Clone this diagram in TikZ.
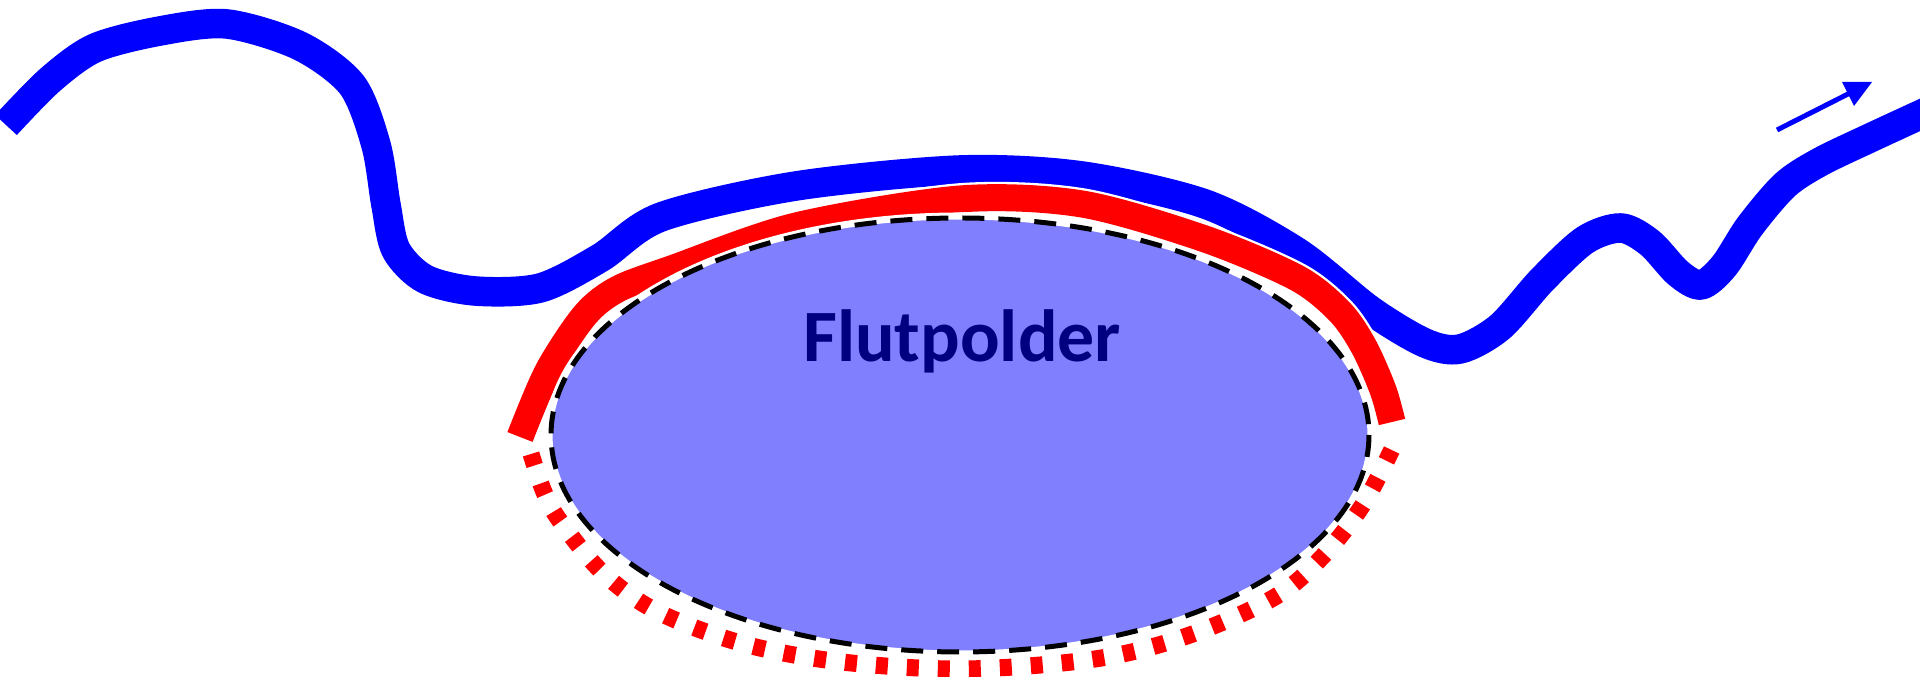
\documentclass[tikz,border=0pt]{standalone}
\usepackage{fontspec}
\setmainfont{Carlito}
\definecolor{riverblue}{HTML}{0000FF}
\definecolor{dikered}{HTML}{FF0000}
\definecolor{polderfill}{HTML}{8080FF}
\definecolor{poldertext}{HTML}{000080}
\tikzset{
  river/.style={draw=riverblue, line width=8.4pt, line join=round},
  dikecasing/.style={draw=white, line width=9pt, line join=round},
  dike/.style={draw=dikered, line width=7.68pt, line join=round},
  dikedot/.style={draw=dikered, line width=4.84pt, dash pattern=on 3.41pt off 5.41pt},
  polder/.style={fill=polderfill},
  polderring/.style={draw=white, line width=2pt},
  polderedge/.style={draw=black, line width=1.42pt, dash pattern=on 6.26pt off 3.98pt},
  flowarrow/.style={draw=riverblue, line width=1.42pt},
  label/.style={font=\bfseries\fontsize{21pt}{25pt}\selectfont, text=poldertext, inner sep=0pt}
}
\begin{document}
\begin{tikzpicture}[x=0.01cm, y=-0.01cm]
\clip (0,0) rectangle (1920,677);
\fill[white] (0,0) rectangle (1920,677);
% river
\draw[river] plot[smooth, tension=0.5] coordinates {
 (6,125) (50,80) (95,48) (160,31) (227,24) (300,46) (352,85)
 (376,145) (386,205) (396,250) (425,279) (475,291) (540,288)
 (600,258) (661,217) (796,186) (960,170) (1082,176) (1205,204)
 (1297,252) (1370,310) (1425,343) (1460,349) (1500,327) (1542,280)
 (1585,240) (1621,228) (1650,243) (1678,273) (1701,285) (1724,266)
 (1750,226) (1785,185) (1820,162) (1870,138) (1935,108)};
% flow direction arrow
\coordinate (arrowtail) at (1777,130);
\coordinate (arrowhead) at (1850,93);
\draw[flowarrow] (arrowtail) -- (arrowhead);
\fill[riverblue] (1842,82) -- (1872,82) -- (1854,106) -- cycle;
% existing dike (solid)
\def\dikepath{plot[smooth, tension=0.5] coordinates {
 (520,437) (548,371) (585,315) (618,289) (674,268) (796,226) (960,199)
 (1082,204) (1205,239) (1297,278) (1340,312) (1364,347) (1383,390) (1392,422)}}
\draw[dikecasing] \dikepath;
\draw[dike] \dikepath;
% polder area
\path[polder] (960,435) ellipse [x radius=409, y radius=217];
\draw[polderring] (960,435) ellipse [x radius=411, y radius=219];
\draw[polderedge] (960,435) ellipse [x radius=409, y radius=217];
% planned dike (dotted)
\draw[dikedot] plot[smooth, tension=0.55] coordinates {
 (531,454) (544,492) (560,521) (603,573) (658,612) (744,644) (842,662)
 (965,669) (1095,659) (1187,636) (1275,597) (1324,555) (1364,503) (1394,445)};
% label
\node[label, anchor=base] (flutpolder) at (962,362) {Flutpolder};
\end{tikzpicture}
\end{document}
